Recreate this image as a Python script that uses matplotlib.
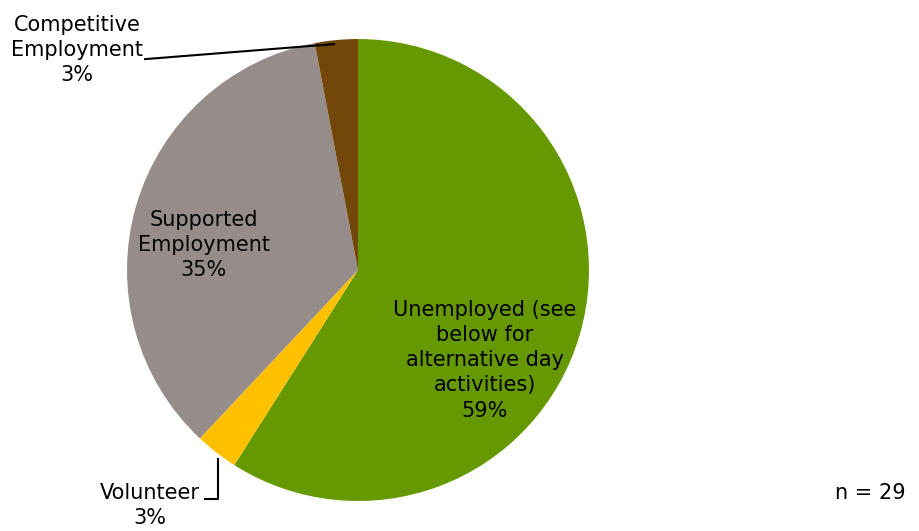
import matplotlib.pyplot as plt

# employment status shares (%), n = 29
labels = ["Unemployed (see\nbelow for\nalternative day\nactivities)", "Volunteer",
          "Supported\nEmployment", "Competitive\nEmployment"]
shares = [59, 3, 35, 3]
n_total = 29
colors = ["#669900", "#FFC000", "#968D8A", "#734709"]

plt.rcParams['font.family'] = ['DejaVu Sans']

fig = plt.figure(figsize=(9.19, 5.31), dpi=100)
ax = fig.add_axes([0.1382, 0.0565, 0.5027, 0.870])

wedges, _ = ax.pie(shares, colors=colors, startangle=90, counterclock=False,
                   radius=1.0)
ax.set_xlim(-1, 1)
ax.set_ylim(-1, 1)
ax.set_aspect('equal')
ax.axis('off')

fs = 15
ls = 1.33

# labels inside the two big slices
ax.text(0.55, -0.39, f"{labels[0]}\n{shares[0]}%", ha='center', va='center',
        fontsize=fs, linespacing=ls)
ax.text(-0.667, 0.108, f"{labels[2]}\n{shares[2]}%", ha='center', va='center',
        fontsize=fs, linespacing=ls)

# outside labels with leader lines for the small slices
ax.text(-1.216, 0.952, f"{labels[3]}\n{shares[3]}%", ha='center', va='center',
        fontsize=fs, linespacing=ls, clip_on=False)
ax.plot([-0.922, -0.104], [0.913, 0.978], color='black', lw=1.5,
        clip_on=False)

ax.text(-0.9, -1.02, f"{labels[1]}\n{shares[1]}%", ha='center', va='center',
        fontsize=fs, linespacing=ls, clip_on=False)
ax.plot([-0.662, -0.606, -0.606], [-0.991, -0.991, -0.818], color='black',
        lw=1.5, clip_on=False)

fig.text(0.947, 0.0716, f"n = {n_total}", ha='center', va='center', fontsize=fs)

fig.savefig("out.png", dpi=100)
